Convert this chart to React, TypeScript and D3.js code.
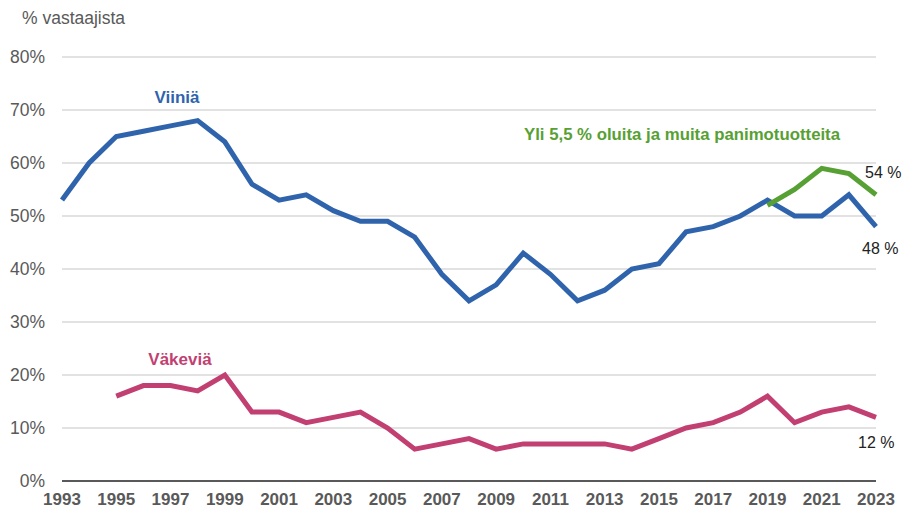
import * as d3 from "d3";

const years = d3.range(1993, 2024);
const wine = [53, 60, 65, 66, 67, 68, 64, 56, 53, 54, 51, 49, 49, 46, 39, 34, 37, 43, 39, 34, 36, 40, 41, 47, 48, 50, 53, 50, 50, 54, 48];
const spiritsYears = d3.range(1995, 2024);
const spirits = [16, 18, 18, 17, 20, 13, 13, 11, 12, 13, 10, 6, 7, 8, 6, 7, 7, 7, 7, 6, 8, 10, 11, 13, 16, 11, 13, 14, 12];
const beerYears = [2019, 2020, 2021, 2022, 2023];
const beer = [52, 55, 59, 58, 54];
const yTicks = [0, 10, 20, 30, 40, 50, 60, 70, 80];
const xTicks = d3.range(1993, 2024, 2);

const width = 904;
const height = 510;
const font = "'Liberation Sans', Arial, sans-serif";
const BLUE = "#2f64ad";
const PINK = "#c23f72";
const GREEN = "#57a033";

export default function App() {
  const x = d3.scaleLinear([1993, 2023], [62, 876]);
  const y = d3.scaleLinear([0, 80], [481, 57]);
  const line = (xs: number[], vs: number[]) =>
    d3.line<number>((_, i) => x(xs[i]), (d) => y(d))(vs) ?? "";

  return (
    <svg width={width} height={height} style={{ position: "absolute", left: 0, top: 0, fontFamily: font }}>
      <text x={22} y={24} fontSize={17.5} fill="#595959">% vastaajista</text>
      {yTicks.map((t) => (
        <g key={t}>
          {t > 0 && <line x1={62} x2={876} y1={y(t)} y2={y(t)} stroke="#d9d9d9" strokeWidth={1.3} />}
          <text x={45} y={y(t) + 6} fontSize={17.5} textAnchor="end" fill="#595959">{t}%</text>
        </g>
      ))}
      <line x1={62} x2={876} y1={y(0)} y2={y(0)} stroke="#595959" strokeWidth={2} />
      {xTicks.map((t) => (
        <text key={t} x={x(t)} y={505} fontSize={17} fontWeight="bold" textAnchor="middle" fill="#595959">{t}</text>
      ))}
      <path d={line(years, wine)} fill="none" stroke={BLUE} strokeWidth={5} strokeLinejoin="miter" />
      <path d={line(spiritsYears, spirits)} fill="none" stroke={PINK} strokeWidth={5} strokeLinejoin="miter" />
      <path d={line(beerYears, beer)} fill="none" stroke={GREEN} strokeWidth={5} strokeLinejoin="miter" />
      <text x={177} y={103} fontSize={17} fontWeight="bold" fill={BLUE} textAnchor="middle">Viiniä</text>
      <text x={180} y={365} fontSize={17} fontWeight="bold" fill={PINK} textAnchor="middle">Väkeviä</text>
      <text x={682} y={140} fontSize={16.8} fontWeight="bold" fill={GREEN} textAnchor="middle">Yli 5,5 % oluita ja muita panimotuotteita</text>
      <text x={865} y={178} fontSize={16} fill="#222">54 %</text>
      <text x={862} y={254} fontSize={16} fill="#222">48 %</text>
      <text x={858} y={448} fontSize={16} fill="#222">12 %</text>
    </svg>
  );
}
